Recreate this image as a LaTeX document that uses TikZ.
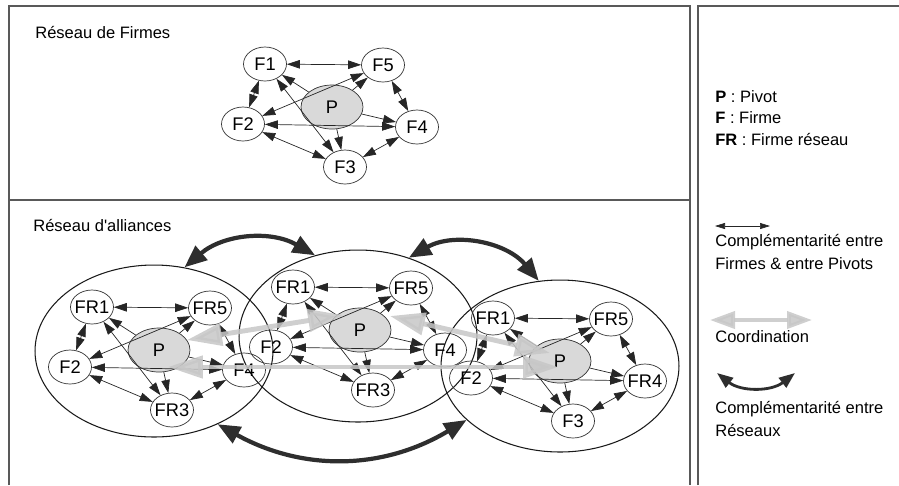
\documentclass[tikz,border=0pt]{standalone}
\usepackage{fontspec}
\setmainfont{Liberation Sans}
\usetikzlibrary{arrows.meta,shapes.geometric,calc}

\begin{document}
\begin{tikzpicture}[x=0.02cm, y=-0.02cm,
		cadre/.style={draw=black!65, line width=0.9pt},
		titre/.style={anchor=west, inner sep=0pt, align=left, font=\fontsize{9.4}{13}\selectfont},
		firme/.style={draw=black!80, ellipse, line width=0.4pt, minimum width=0.86cm, minimum height=0.68cm, inner xsep=-2pt, inner ysep=0pt, font=\fontsize{10.4}{12}\selectfont},
		pivot/.style={firme, fill=black!15, minimum width=1.24cm, minimum height=0.88cm},
		groupe/.style={draw=black!90, ellipse, line width=0.6pt, minimum width=4.76cm, minimum height=3.44cm},
		lien/.style={{Triangle[length=2.6mm,width=1.7mm]}-{Triangle[length=2.6mm,width=1.7mm]}, draw=black!85, line width=0.4pt},
		dir/.style={-{Triangle[length=2.6mm,width=1.7mm]}, draw=black!85, line width=0.4pt},
		coord/.style={{Triangle[length=7mm,width=4.4mm]}-{Triangle[length=7mm,width=4.4mm]}, draw=black!22, line width=2.8pt, opacity=0.85},
		compl/.style={{Triangle[length=4.5mm,width=3.6mm]}-{Triangle[length=4.5mm,width=3.6mm]}, draw=black!82, line width=2.4pt}]
		\useasboundingbox (0,0) rectangle (899,485);
		\draw[cadre] (9,485) |- (690,6) -- (690,485);
		\draw[cadre] (9,200) -- (690,200);
		\draw[cadre] (698,485) |- (899,6);

		\node[titre] (t1) at (35,32) {Réseau de Firmes};
		\node[titre] (t2) at (33,225) {Réseau d\textquotesingle alliances};

		\node[groupe] (gc) at (154,351) {};
		\node[groupe] (mc) at (358,336) {};
		\node[groupe] (dc) at (560,366) {};

		\foreach \res/\x/\y/\pa/\pb/\pd/\pe in {h/265/64/F/F/F/F, g/92/307/FR/FR/F/FR, m/293/287/FR/FR/F/FR, d/493/318/FR/FR/FR/F} {
			\node[firme] (\res1) at (\x,\y) {\pa1};
			\node[firme] (\res5) at (\x+118,\y+1) {\pb5};
			\node[pivot] (\res p) at (\x+67,\y+43) {P};
			\node[firme] (\res2) at (\x-22,\y+60) {F2};
			\node[firme] (\res4) at (\x+152,\y+63) {\pd4};
			\node[firme] (\res3) at (\x+80,\y+103) {\pe3};
			\foreach \a/\b in {1/5,1/2,5/4,2/3,4/3,2/4,2/5,1/3}
				\draw[lien] (\res\a) -- (\res\b);
			\foreach \b in {1,5,4,3}
				\draw[dir] (\res p) -- (\res\b);
		}

		\draw[coord] ($(gp)+(28,-10)$) -- ($(mp)+(-17,-15)$);
		\draw[coord] ($(gp)+(9,17)$) -- ($(dp)+(-2,6)$);
		\draw[coord] ($(mp)+(30,-14)$) -- ($(dp)+(-10,-8)$);

		\draw[compl] (gc.70) to[bend left=35] (mc.118);
		\draw[compl] (mc.57) to[bend left=40] (dc.104);
		\draw[compl] (gc.-49) to[bend right=30] (dc.210);

		\node[titre] (lp) at (715,97) {\textbf{P} : Pivot};
		\node[titre] (lf) at (715,118) {\textbf{F} : Firme};
		\node[titre] (lfr) at (715,139) {\textbf{FR} : Firme réseau};
		\coordinate (a1) at (715,226);
		\coordinate (a2) at (770,226);
		\draw[lien, {Triangle[length=2mm,width=1.2mm]}-{Triangle[length=2mm,width=1.2mm]}] (a1) -- (a2);
		\node[titre] (l1) at (715,252) {Complémentarité entre\\Firmes \& entre Pivots};
		\coordinate (b1) at (710,320);
		\coordinate (b2) at (812,320);
		\draw[coord, line width=2.2pt, {Triangle[length=5mm,width=3.4mm]}-{Triangle[length=5mm,width=3.4mm]}] (b1) -- (b2);
		\node[titre] (l2) at (715,337) {Coordination};
		\coordinate (c1) at (717,373);
		\coordinate (c2) at (795,373);
		\draw[compl, line width=1.6pt, {Triangle[length=3.2mm,width=2.4mm]}-{Triangle[length=3.2mm,width=2.4mm]}] (c1) to[bend right=38] (c2);
		\node[titre] (l3) at (715,419) {Complémentarité entre\\Réseaux};
	\end{tikzpicture}
\end{document}
